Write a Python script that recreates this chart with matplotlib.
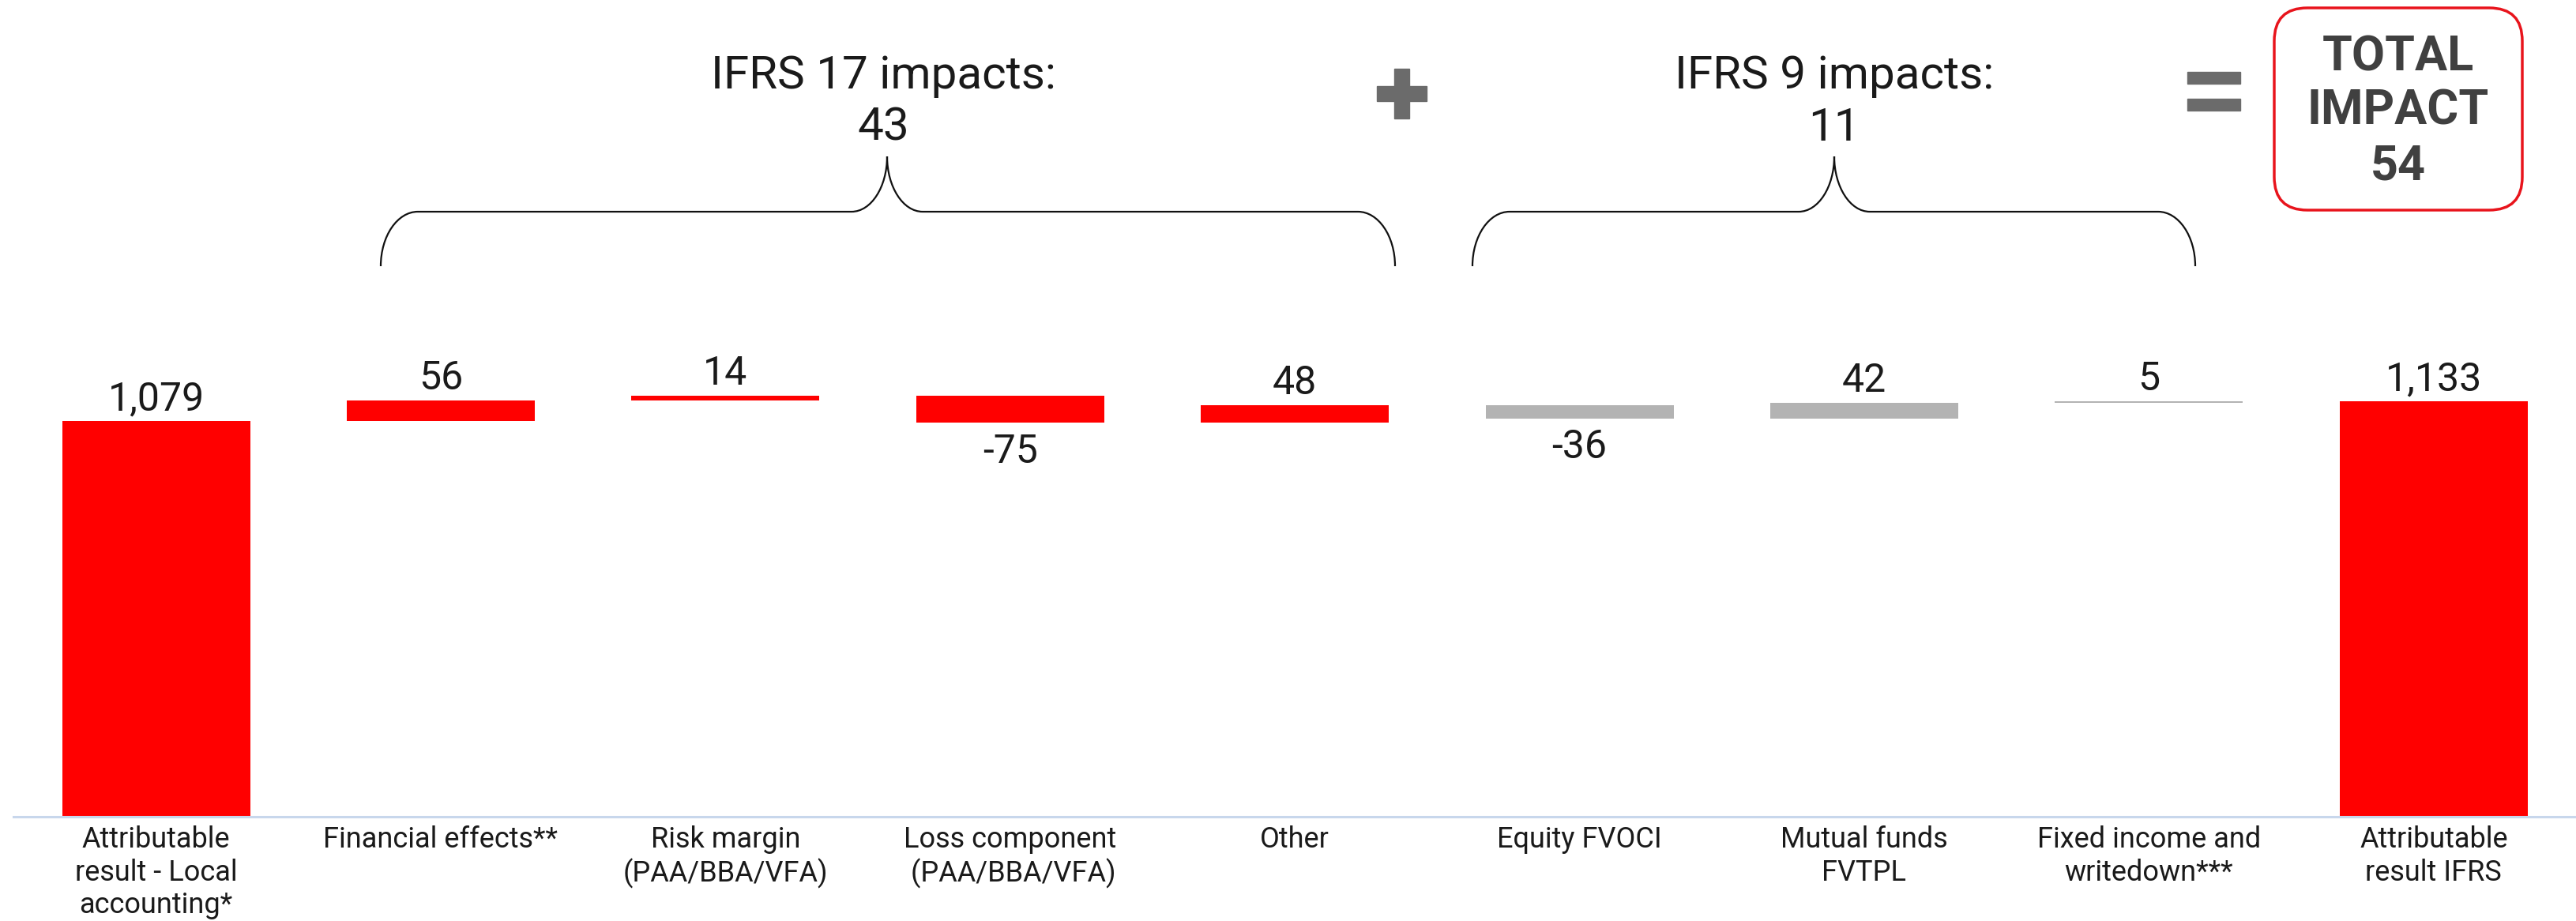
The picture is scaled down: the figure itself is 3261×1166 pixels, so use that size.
import matplotlib.pyplot as plt
from matplotlib.patches import Rectangle, FancyBboxPatch, PathPatch
from matplotlib.path import Path
import numpy as np

plt.rcParams['font.family'] = ['Roboto', 'DejaVu Sans']

# data
categories = ["Attributable\nresult - Local\naccounting*", "Financial effects**",
              "Risk margin\n(PAA/BBA/VFA)", "Loss component\n (PAA/BBA/VFA)", "Other",
              "Equity FVOCI", "Mutual funds\nFVTPL", "Fixed income and\nwritedown***",
              "Attributable\nresult IFRS"]
start_value = 1079
steps = [56, 14, -75, 48, -36, 42, 5]
step_group = ['IFRS 17', 'IFRS 17', 'IFRS 17', 'IFRS 17', 'IFRS 9', 'IFRS 9', 'IFRS 9']
end_value = 1133
ifrs17_total = 43
ifrs9_total = 11
total_impact = 54

red = '#ff0000'
grey = '#b3b3b3'
txt = '#1a1a1a'

W, H = 3262, 1166
base_px = 1034
px_per_unit = 0.4643
fig = plt.figure(figsize=(W / 100, H / 100), dpi=100)
ax = fig.add_axes([0, (H - base_px) / H, 1, base_px / H])
ax.set_ylim(0, base_px / px_per_unit)
ax.set_xlim(-197.6 / 360.4, (W - 197.6) / 360.4)

x = np.arange(len(categories))
cum = start_value + np.cumsum(steps)
prev = np.concatenate([[start_value], cum[:-1]])
bottoms = np.minimum(prev, cum)
heights = np.abs(steps)
bar_w = 0.66

ax.bar(x[0], start_value, width=bar_w, color=red)
ax.bar(x[1:-1], heights, bottom=bottoms, width=bar_w,
       color=[red if g == 'IFRS 17' else grey for g in step_group])
ax.bar(x[-1], end_value, width=bar_w, color=red)

# value labels
for xi, v in [(x[0], start_value), (x[-1], end_value)]:
    ax.annotate(f'{v:,}', (xi, v), xytext=(0, 10), textcoords='offset points',
                ha='center', va='baseline', fontsize=36, color=txt)
for xi, s, b, h in zip(x[1:-1], steps, bottoms, heights):
    if s > 0:
        ax.annotate(f'{s:,}', (xi, b + h), xytext=(0, 10), textcoords='offset points',
                    ha='center', va='baseline', fontsize=36, color=txt)
    else:
        ax.annotate(f'{s:,}', (xi, b), xytext=(0, -9), textcoords='offset points',
                    ha='center', va='top', fontsize=36, color=txt)

ax.axhline(0, xmin=17 / W, xmax=1, color='#c8d7ec', lw=2.2, clip_on=False)
ax.set_xticks(x)
ax.set_xticklabels(categories, fontsize=26, color=txt, linespacing=1.2)
ax.tick_params(axis='x', length=0, pad=8)
ax.set_yticks([])
for sp in ax.spines.values():
    sp.set_visible(False)
ax.patch.set_alpha(0)

# overlay in pixel units for the decorations
ov = fig.add_axes([0, 0, 1, 1])
ov.set_xlim(0, W)
ov.set_ylim(H, 0)
ov.axis('off')
ov.patch.set_alpha(0)


def brace(x0, x1, xm, y_end=337, y_h=268, y_peak=198, r=47, r2=45):
    k = 0.5523
    verts = [(x0, y_end),
             (x0, y_end + k * (y_h - y_end)), (x0 + r - k * r, y_h), (x0 + r, y_h),
             (xm - r2, y_h),
             (xm - r2 + k * r2, y_h), (xm, y_peak - k * (y_peak - y_h)), (xm, y_peak),
             (xm, y_peak - k * (y_peak - y_h)), (xm + r2 - k * r2, y_h), (xm + r2, y_h),
             (x1 - r, y_h),
             (x1 - r + k * r, y_h), (x1, y_end + k * (y_h - y_end)), (x1, y_end)]
    codes = [Path.MOVETO] + [Path.CURVE4] * 3 + [Path.LINETO] + [Path.CURVE4] * 6 + \
            [Path.LINETO] + [Path.CURVE4] * 3
    ov.add_patch(PathPatch(Path(verts, codes), fill=False, lw=1.6, edgecolor='#111111'))


brace(482, 1766, 1123)
brace(1864, 2779, 2322)

ov.text(1118, 112, 'IFRS 17 impacts:', ha='center', va='baseline', fontsize=42, color=txt)
ov.text(1118, 178, f'{ifrs17_total}', ha='center', va='baseline', fontsize=42, color=txt)
ov.text(2322, 112, 'IFRS 9 impacts:', ha='center', va='baseline', fontsize=42, color=txt)
ov.text(2322, 178, f'{ifrs9_total}', ha='center', va='baseline', fontsize=42, color=txt)

# plus sign
op = '#6b6b6b'
ov.add_patch(Rectangle((1743, 109), 63, 19, color=op))
ov.add_patch(Rectangle((1765, 87), 19, 63, color=op))
# equals sign
ov.add_patch(Rectangle((2769, 91), 67, 15, color=op))
ov.add_patch(Rectangle((2769, 125), 67, 15, color=op))

# total box
ov.add_patch(FancyBboxPatch((2879, 10), 314, 256, boxstyle='round,pad=0,rounding_size=42',
                            fill=False, edgecolor='#e8141c', lw=2.5))
for yb, s in [(89, 'TOTAL'), (158, 'IMPACT'), (227, f'{total_impact}')]:
    ov.text(3036, yb, s, ha='center', va='baseline', fontsize=44, fontweight='bold',
            color='#404040')

fig.savefig('out.png', dpi=100)
